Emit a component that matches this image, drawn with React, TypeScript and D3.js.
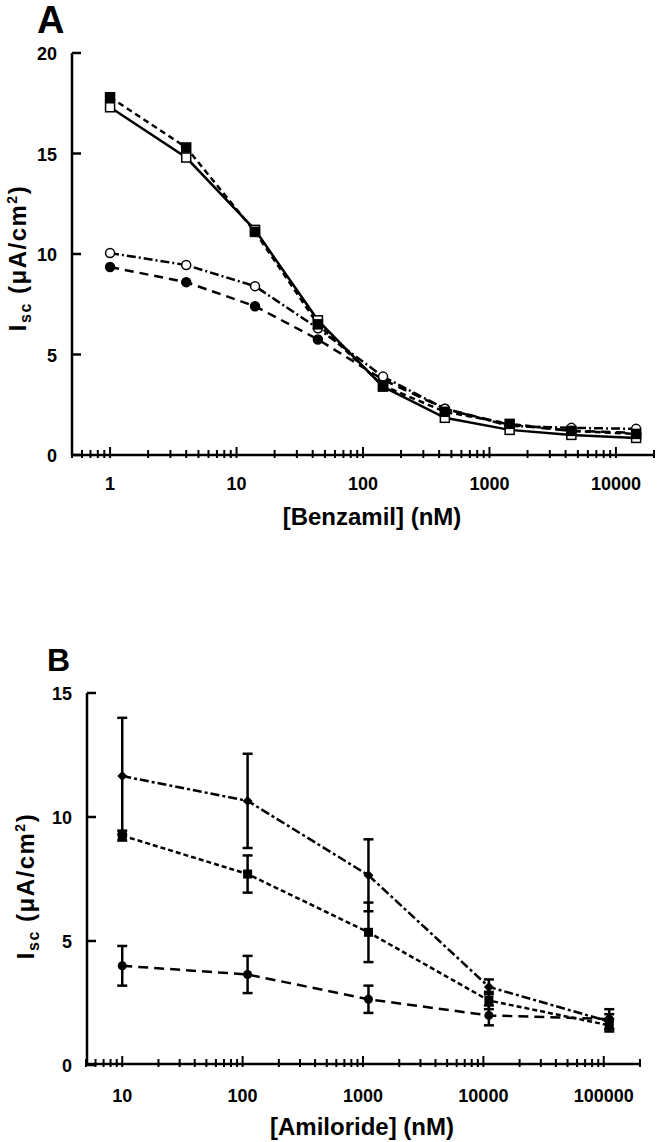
import React from "react";
import * as d3 from "d3";

// Panel A: benzamil (cumulative dose, nM)
const benzamilConc = [1, 4, 14, 44, 144, 444, 1444, 4444, 14444];
const aFilledSquare = [17.8, 15.3, 11.1, 6.5, 3.45, 2.15, 1.55, 1.2, 1.05];
const aOpenSquare = [17.3, 14.8, 11.2, 6.7, 3.4, 1.85, 1.25, 1.0, 0.85];
const aOpenCircle = [10.05, 9.45, 8.4, 6.3, 3.9, 2.3, 1.45, 1.35, 1.3];
const aFilledCircle = [9.35, 8.6, 7.4, 5.75, 3.75, 2.3, 1.5, 1.2, 1.1];
const aYTicks = [0, 5, 10, 15, 20];
const aXLabels = [1, 10, 100, 1000, 10000];

// Panel B: amiloride (cumulative dose, nM)
const amilorideConc = [10, 110, 1110, 11110, 111110];
const bDiamond = [11.65, 10.65, 7.65, 3.15, 1.75];
const bDiamondErr = [2.35, 1.9, 1.45, 0.3, 0.3];
const bSquare = [9.25, 7.7, 5.35, 2.6, 1.6];
const bSquareErr = [0.2, 0.75, 1.2, 0.35, 0.25];
const bCircle = [4.0, 3.65, 2.65, 2.0, 1.85];
const bCircleErr = [0.8, 0.75, 0.55, 0.4, 0.4];
const bYTicks = [0, 5, 10, 15];
const bXLabels = [10, 100, 1000, 10000, 100000];

const FONT = "'Liberation Sans', Arial, Helvetica, sans-serif";

function logTicks(lo: number, hi: number) {
  const out: { v: number; major: boolean }[] = [];
  for (let e = Math.floor(Math.log10(lo)); e <= Math.ceil(Math.log10(hi)); e++) {
    for (let m = 1; m <= 9; m++) {
      const v = m * Math.pow(10, e);
      if (v >= lo * 0.999 && v <= hi * 1.001) out.push({ v, major: m === 1 });
    }
  }
  return out;
}

function XAxis({ x, y0, lo, hi, labels, title, labelY, titleY, titleX }: any) {
  const ticks = logTicks(lo, hi);
  return (
    <g>
      <line x1={x(lo)} x2={x(hi)} y1={y0} y2={y0} stroke="#000" strokeWidth={2.5} />
      {ticks.map((t, i) => (
        <line key={i} x1={x(t.v)} x2={x(t.v)} y1={y0 - (t.major ? 8 : 5)} y2={y0 + 3} stroke="#000" strokeWidth={2} />
      ))}
      {labels.map((l: number, i: number) => (
        <text key={i} x={x(l)} y={labelY} textAnchor="middle" fontFamily={FONT} fontWeight="bold" fontSize={18}>
          {String(l)}
        </text>
      ))}
      <text x={titleX} y={titleY} textAnchor="middle" fontFamily={FONT} fontWeight="bold" fontSize={24}>
        {title}
      </text>
    </g>
  );
}

function YAxis({ y, x0, ticks }: any) {
  const [a, b] = y.domain();
  return (
    <g>
      <line x1={x0} x2={x0} y1={y(a)} y2={y(b)} stroke="#000" strokeWidth={2.5} />
      {ticks.map((t: number, i: number) => (
        <g key={i}>
          <line x1={x0} x2={x0 + 9} y1={y(t)} y2={y(t)} stroke="#000" strokeWidth={2.5} />
          <text x={x0 - 15} y={y(t) + 7} textAnchor="end" fontFamily={FONT} fontWeight="bold" fontSize={18}>
            {String(t)}
          </text>
        </g>
      ))}
    </g>
  );
}

function YLabel({ cx, cy }: any) {
  return (
    <text transform={`translate(${cx},${cy}) rotate(-90)`} textAnchor="middle" fontFamily={FONT} fontWeight="bold" fontSize={24} letterSpacing={1.5}>
      <tspan>I</tspan>
      <tspan fontSize={16} dy={5}>sc</tspan>
      <tspan dy={-5}> (μA/cm</tspan>
      <tspan fontSize={14} dy={-9}>2</tspan>
      <tspan dy={9}>)</tspan>
    </text>
  );
}

export default function App() {
  const xA = d3.scaleLog().domain([0.5, 20000]).range([72, 654]);
  const yA = d3.scaleLinear().domain([0, 20]).range([455, 53]);
  const xB = d3.scaleLog().domain([5, 200000]).range([86, 640]);
  const yB = d3.scaleLinear().domain([0, 15]).range([1065, 693]);

  const lineA = (vals: number[]) =>
    d3.line<number>().x((_, i) => xA(benzamilConc[i])).y((v) => yA(v))(vals) || "";
  const lineB = (vals: number[]) =>
    d3.line<number>().x((_, i) => xB(amilorideConc[i])).y((v) => yB(v))(vals) || "";

  const seriesA = [
    { vals: aFilledCircle, dash: "9,6", marker: "circle", fill: "#000" },
    { vals: aOpenCircle, dash: "9,3,2,3", marker: "circle", fill: "#fff" },
    { vals: aOpenSquare, dash: "", marker: "square", fill: "#fff" },
    { vals: aFilledSquare, dash: "6,4", marker: "square", fill: "#000" },
  ];

  const seriesB = [
    { vals: bCircle, err: bCircleErr, dash: "10,6", marker: "circle" },
    { vals: bSquare, err: bSquareErr, dash: "5,3", marker: "square" },
    { vals: bDiamond, err: bDiamondErr, dash: "9,3,3,3", marker: "diamond" },
  ];

  return (
    <svg width={658} height={1142} style={{ position: "absolute", left: 0, top: 0, background: "#fff" }}>
      <rect width={658} height={1142} fill="#fff" />
      {/* Panel A */}
      <text x={37} y={33} fontFamily={FONT} fontWeight="bold" fontSize={38}>A</text>
      <YLabel cx={26} cy={258} />
      <YAxis y={yA} x0={72} ticks={aYTicks} />
      <XAxis x={xA} y0={455} lo={0.5} hi={20000} labels={aXLabels} title="[Benzamil] (nM)" labelY={490} titleY={525} titleX={372} />
      {seriesA.map((s, k) => (
        <path key={"la" + k} d={lineA(s.vals)} fill="none" stroke="#000" strokeWidth={2.5} strokeDasharray={s.dash || undefined} />
      ))}
      {seriesA.map((s, k) => (
        <g key={"ma" + k}>
          {s.vals.map((v, i) =>
            s.marker === "square" ? (
              <rect key={i} x={xA(benzamilConc[i]) - 4.5} y={yA(v) - 4.5} width={9} height={9} fill={s.fill} stroke="#000" strokeWidth={1.5} />
            ) : (
              <circle key={i} cx={xA(benzamilConc[i])} cy={yA(v)} r={4.5} fill={s.fill} stroke="#000" strokeWidth={1.5} />
            )
          )}
        </g>
      ))}

      {/* Panel B */}
      <text x={47} y={671} fontFamily={FONT} fontWeight="bold" fontSize={32}>B</text>
      <YLabel cx={34} cy={886} />
      <YAxis y={yB} x0={87} ticks={bYTicks} />
      <XAxis x={xB} y0={1064} lo={5} hi={200000} labels={bXLabels} title="[Amiloride] (nM)" labelY={1102} titleY={1135} titleX={362} />
      {seriesB.map((s, k) => (
        <g key={"eb" + k}>
          {s.vals.map((v, i) => {
            const cx = xB(amilorideConc[i]);
            const t = yB(v + s.err[i]);
            const b = yB(v - s.err[i]);
            return (
              <g key={i}>
                <line x1={cx} x2={cx} y1={t} y2={b} stroke="#000" strokeWidth={2.5} />
                <line x1={cx - 5} x2={cx + 5} y1={t} y2={t} stroke="#000" strokeWidth={2.5} />
                <line x1={cx - 5} x2={cx + 5} y1={b} y2={b} stroke="#000" strokeWidth={2.5} />
              </g>
            );
          })}
        </g>
      ))}
      {seriesB.map((s, k) => (
        <path key={"lb" + k} d={lineB(s.vals)} fill="none" stroke="#000" strokeWidth={2.5} strokeDasharray={s.dash} />
      ))}
      {seriesB.map((s, k) => (
        <g key={"mb" + k}>
          {s.vals.map((v, i) => {
            const cx = xB(amilorideConc[i]);
            const cy = yB(v);
            if (s.marker === "square")
              return <rect key={i} x={cx - 4.5} y={cy - 4.5} width={9} height={9} fill="#000" />;
            if (s.marker === "diamond")
              return <path key={i} d={`M${cx},${cy - 5}L${cx + 5},${cy}L${cx},${cy + 5}L${cx - 5},${cy}Z`} fill="#000" />;
            return <circle key={i} cx={cx} cy={cy} r={4.5} fill="#000" />;
          })}
        </g>
      ))}
    </svg>
  );
}
